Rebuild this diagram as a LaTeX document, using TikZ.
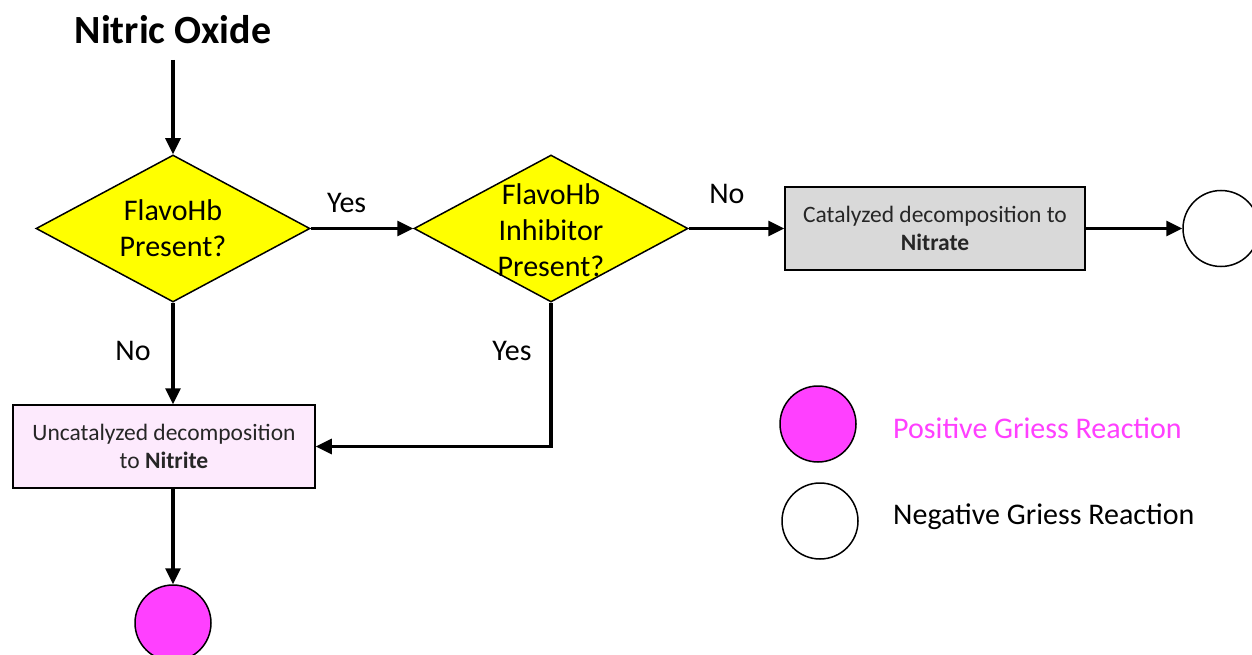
\documentclass[tikz,border=0pt]{standalone}
\usepackage{fontspec}
\setmainfont{Carlito}
\usetikzlibrary{shapes.geometric,arrows.meta}
\definecolor{dyellow}{HTML}{FFFF00}
\definecolor{boxgray}{HTML}{D9D9D9}
\definecolor{boxpink}{HTML}{FDEAFD}
\definecolor{magentac}{HTML}{FF40FF}
\begin{document}
\begin{tikzpicture}[x=1pt,y=-1pt,
  decision/.style={diamond, draw=black, line width=1.5pt, fill=dyellow, minimum width=274pt, minimum height=147pt, inner sep=0pt},
  dtext/.style={font=\fontsize{30}{36}\selectfont, align=center, inner sep=0pt},
  lbl/.style={font=\fontsize{30}{36}\selectfont, inner sep=0pt},
  procbox/.style={rectangle, draw=black, line width=1.5pt, minimum height=83pt, align=center, font=\fontsize{23.5}{28}\selectfont, text=black!85},
  result/.style={circle, draw=black, line width=1.5pt, minimum size=76pt, inner sep=0pt},
  flow/.style={line width=3.2pt, -{Triangle[length=16pt,width=15pt]}}
]
\clip (0,0) rectangle (1252,655);
\useasboundingbox (0,0) rectangle (1252,655);
\fill[white] (0,0) rectangle (1252,655);

\node[font=\fontsize{40}{44}\selectfont\bfseries, inner sep=0pt] (title) at (173,30) {Nitric Oxide};

\node[decision] (d1) at (173,228.5) {};
\node[dtext] (t1) at (d1) {FlavoHb\\Present?};
\node[decision] (d2) at (551,228.5) {};
\node[dtext] (t2) at ([yshift=-2pt]d2) {FlavoHb\\Inhibitor\\Present?};

\node[procbox, fill=boxgray, minimum width=300pt] (gbox) at (935,228.5) {Catalyzed decomposition to\\\textbf{Nitrate}};
\node[procbox, fill=boxpink, minimum width=302pt] (pbox) at (164,446.5) {Uncatalyzed decomposition\\to \textbf{Nitrite}};

\node[result, fill=white] (negout) at (1221,228.5) {};
\node[result, fill=magentac] (posout) at (173,623) {};

\node[result, fill=magentac] (legpos) at (818,424) {};
\node[result, fill=white] (legneg) at (820,521) {};
\node[lbl, anchor=west, text=magentac] (legpostxt) at (893,428) {Positive Griess Reaction};
\node[lbl, anchor=west] (legnegtxt) at (893,517) {Negative Griess Reaction};

\coordinate (tstart) at (173,60);
\draw[flow] (tstart) -- (d1.north);
\draw[flow] (d1.east) -- (d2.west) node[lbl, pos=0.35, above=14pt] (yes1) {Yes};
\draw[flow] (d2.east) -- (gbox.west) node[lbl, pos=0.4, above=23pt] (no1) {No};
\draw[flow] (gbox.east) -- (negout.west);
\draw[flow] (d1.south) -- (d1.south |- pbox.north);
\node[lbl] (no2) at (133,351) {No};
\draw[flow] (d2.south) |- (pbox.east);
\node[lbl] (yes2) at (512,351) {Yes};
\draw[flow] (pbox.south -| posout.north) -- (posout.north);
\end{tikzpicture}
\end{document}
